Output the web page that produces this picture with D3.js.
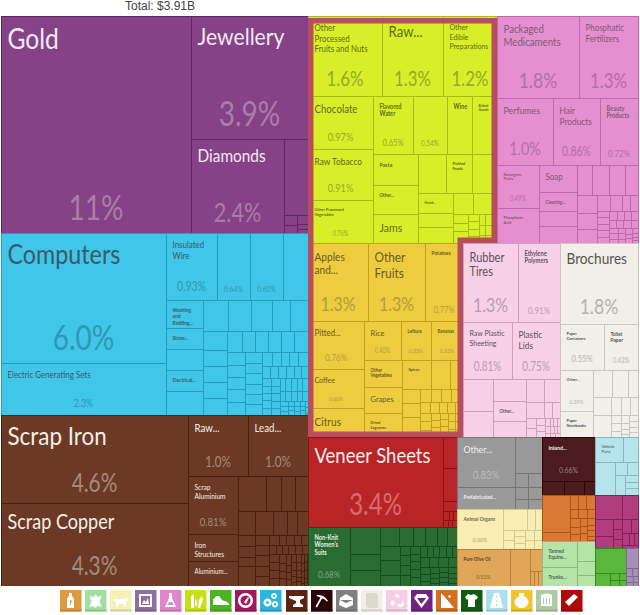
<!DOCTYPE html>
<html><head><meta charset="utf-8">
<script src="https://cdn.jsdelivr.net/npm/d3@7"></script>
<style>html,body{margin:0;padding:0;background:#fff}svg{display:block}text{font-family:Lato,"Open Sans",sans-serif}</style>
</head><body><svg id="c" width="640" height="615"></svg>
<script>
// nested layout helpers: h = side by side, v = stacked; leaf = value or [value, name, share]
const wrap = c => typeof c === "number" ? {value:c} : Array.isArray(c) ? {value:c[0], name:c[1]||"", pct:c[2]||""} : c;
const h = (...c) => ({dir:"h", children:c.map(wrap)});
const v = (...c) => ({dir:"v", children:c.map(wrap)});

const totalLabel = "Total: $3.91B";

const preciousMetals = h([412,"Gold","11%"], v([144,"Jewellery","3.9%"],
  h([87.4,"Diamonds","2.4%"], v(18.2, h(v(1.3,1.0), v(1.0,.6,.4))))));

const machines = h(v([214.5,"Computers","6.0%"],[85.8,"Electric Generating Sets","2.3%"]),
  v(h([34.2,"Insulated\nWire","0.93%"],[22.1,"","0.64%"],[22.1,"","0.60%"],16.8),
    h(v([10.4,"Washing\nand\nBottling..."],[7.8,"Stone..."],7.8,[7.8,"Electrical..."],8.9),
      v(h(7.75,7.13,6.5,5.6,5.6),
        h(v(4.4,3.7,3.7,3.7,3.9),
          v(h(3.15,2.7,2.9,2.7,2.7,2.9),
            h(v(2.3,2.2,2.2,2.3,2.3), v(1.78,1.78,1.78,1.78,1.78,1.78),
              v(h(1.4,1.26,1.12,1.26,1.4), h(.96,.96,.96,.96,.84,.84),
                h(v(.7,.7,.7,.7,.7), v(.6,.6,.6,.6,.56),
                  v(h(.7,.7,.7,.7,.7), h(.6,.6,.6,.6,.6),
                    h(v(.4,.4,.3),v(.3,.3,.3),v(.3,.3,.2),v(.2,.2,.2),v(.2,.2,.06))))))))))));

const metals = h(v([164.6,"Scrap Iron","4.6%"],[155.2,"Scrap Copper","4.3%"]),
  v(h([36.6,"Raw...","1.0%"],[36.6,"Lead...","1.0%"]),
    h(v([29,"Scrap\nAluminium","0.81%"],[13.5,"Iron\nStructures"],[12.5,"Aluminium..."]),
      v(h(9.8,5.25,4.9,4.55), h(4.08,4.32,3.36,2.4,2.64),
        h(v(1.9,1.9,1.5,3.4), v(1.43,1.43,1.43,1.43,1.42),
          v(h(1,.7,.8,.7,.7), h(.63,.54,.54,.63,.63,.54),
            h(v(.8,.8,.8,.8),v(.6,.5,.5,.5),v(.6,.4,.4,.4),v(.4,.4,.3,.3,.2),v(.35,.35,.3,.2,.2),v(.3,.3,.2,.2,.1),v(.2,.2,.2,.1,.1),v(.15,.1,.1,.1))))))));

const vegetable = v(h([59.2,"Other\nProcessed\nFruits and Nuts","1.6%"],[48.8,"Raw...","1.3%"],[43.2,"Other\nEdible\nPreparations","1.2%"]),
  h(v([34.45,"Chocolate","0.97%"],[33.15,"Raw Tobacco","0.91%"],[27.95,"Other Processed\nVegetables","0.76%"]),
    v(h([23.2,"Flavored\nWater","0.65%"],[19.7,"","0.54%"],[14.5,"Wine"],[14.5,"Baked\nGoods"]),
      h(v([13.95,"Pasta"],[13.05,"Other..."],[13.05,"Jams"]),
        v(h(10.92,[10.14,"Pickled\nFoods"],9.75),
          h(v([7,"Hard..."],4.9,5.6),
            v(h(4.2,5.04), h(v(1.35,1.2,1.8), v(.8,.8,.8,.8), v(.7,.6,.5), v(.9,.8,.7), v(.4,.3,.3)))))))));

const chemicals = v(h([67.2,"Packaged\nMedicaments","1.8%"],[48.4,"Phosphatic\nFertilizers","1.3%"]),
  h([37.5,"Perfumes","1.0%"],[31.5,"Hair\nProducts","0.86%"],[25.5,"Beauty\nProducts","0.72%"]),
  h(v([18.06,"Nonorganic\nPaints","0.49%"],[14.7,"Phosphoric\nAcid"]),
    v([10.26,"Soap"],[7.22,"Cleaning..."],5.7,6.46),
    v(h(4.5,5.1,4.8,3.9),
      h(v(3.6,3.2,2.8),
        v(h(2.08,1.92,1.28,1.28),
          h(v(.77,.77,.77,.77,.76),
            v(h(.72,.63,.63,.63), h(.58,.58,.58,.58),
              h(v(.5,.5,.4),v(.45,.4,.35),v(.4,.3,.3),v(.3,.25,.2,.2)))))))));

const foodstuffs = v(h([46.8,"Apples\nand...","1.3%"],[44.46,"Other\nFruits","1.3%"],[29.64,"Potatoes","0.77%"]),
  h(v([26.88,"Pitted...","0.76%"],[21.84,"Coffee","0.60%"],[16.24,"Citrus"]),
    v(h([14.43,"Rice","0.40%"],[11.7,"Lettuce","0.33%"],[12.48,"Bananas","0.32%"]),
      h(v([10.26,"Other\nVegetables"],[9.88,"Grapes"],[9.12,"Dried\nLegumes"]),
        v(h([8.41,"Spices"],5.51,3.77),
          h(v(2.52,2.52,3.6),
            v(h(1.43,1.3,1.3,1.56), h(1.1,.99,.88,.88,.88),
              h(v(.9,.9,.84),v(.6,.6,.5,.46),v(.5,.5,.5,.42),v(.6,.6,.6),v(.6,.6,.6)))))))));

const plastics = v(h([43.45,"Rubber\nTires","1.3%"],[33.18,"Ethylene\nPolymers","0.91%"]),
  h([27.93,"Raw Plastic\nSheeting","0.81%"],[27.36,"Plastic\nLids","0.75%"]),
  h(v(9.6,7.8), v(7.26,[6.6,"Other..."],5.28),
    v(h(4.14,3.68), h(2.88,1.28,1.28),
      h(v(1.1,1),v(.6,.6,.5), v(h(.4,.3,.3,.3),h(.3,.3,.2,.2),h(.2,.2,.2))))));

const paper = v([63.18,"Brochures","1.8%"],
  h([20.24,"Paper\nContainers","0.55%"],[15.64,"Toilet\nPaper","0.43%"]),
  h(v([13.53,"Other...","0.39%"],[8.58,"Paper\nNotebooks"]),
    v(h(5.13,4.32,2.7),
      h(v(3.24,3.96),
        v(h(1.8,1.62,1.44), h(v(.8,.8,.6),v(.6,.5,.4,.3),v(.5,.5,.5,.44)))))));

const stone = h([121.5,"Veneer Sheets","3.4%"], v(4.34,4.62, v(1.4,h(.5,.4,.3),h(.4,.3,.34))));

const textiles = h([24.78,"Non-Knit\nWomen's\nSuits","0.68%"], v(7.83,4.64,4.64),
  v(h(3.6,2.52,2.16,2.16,1.8,1.8),
    h(v(3,3,2.2),
      v(1,1,1,1.1), v(.8,.8,.8,.8,.9),
      v(h(.84,.72,.72,.72,.72,.6), h(.9,.9,.9,.9),
        h(v(.7,.7,.5),v(.5,.5,.4,.3),v(.4,.4,.4,.3),v(.5,.5,.4,.3))))));

const glass = h(v([29,"Other...","0.83%"],[12.76,"Prefabricated..."]),
  v(9.72, h(v(1.9,1.6,1.36),v(1.9,1.6,1.36))));

const animal = h([18.4,"Animal Organs","0.50%"],
  v(h(5.04,1.65,1.5), h(v(1.1,.99),v(.7,.7,.69),v(.9,.81),v(.8,.72))));

const oils = h([19.61,"Pure Olive Oil","0.51%"], 7.4, v(2.6,h(.6,.6,.64)));

const minerals = v([23.32,"Inland...","0.66%"], h(3.08,2.8,1.54));

const transport = v(h([7,"Vehicle\nParts"],3.75),
  h(6.6, v(h(1.6,1.39), h(2.0,v(.9,.8,.9)))));

const ores = h(v(10.36,2.52),
  v(h(1.12,1.12,1.26),h(.75,.75,.75),h(v(.8,.7,.7),v(.6,.6,.6),v(.5,.4,.4,.3,.1))));

const hides = h(v([9.1,"Tanned\nEquine..."],[6.65,"Trunks..."]), v(3.6,2.52,1.98));

const instruments = v(h(6.48,3.84),
  h(v(3,2.22), v(.9,.9,.81), v(h(1.3,1),h(.8,.6,.5),h(.44))));

const footwear = v(7.75, h(2,v(.6,.5),v(.5,.43)));

const misc = v(2.4,h(.5,.5),h(.4,.3),h(.26,.2));

// group of each block, with the treemap's arrangement of blocks
const mark = (g,n) => (n.group=g, n);
const tree = h(
  v(mark("precious",preciousMetals), mark("machines",machines), mark("metals",metals)),
  v(h(mark("vegetable",vegetable), mark("chemicals",chemicals)),
    h(mark("food",foodstuffs), mark("plastics",plastics), mark("paper",paper)),
    h(v(mark("stone",stone), mark("textiles",textiles)),
      v(mark("glass",glass), mark("animal",animal), mark("oils",oils)),
      v(mark("minerals",minerals), mark("ores",ores), mark("hides",hides)),
      v(mark("transport",transport), mark("instruments",instruments),
        h(mark("footwear",footwear), mark("misc",misc))))));

// styles: fill, line, name colour, share colour
const groupStyle = {
  precious:["#864286","#5f2766","#f3e9f3","#ab7dab"],
  machines:["#3fc6e8","#249cc0","#3e5a68","#3296b6"],
  metals:["#6c3a24","#4a1f10","#f5efe9","#a58a7c"],
  vegetable:["#d8ee29","#a3be10","#5f6b15","#95aa25"],
  chemicals:["#e58fd0","#bb6ba8","#7d5a72","#b56ea4"],
  food:["#edcc40","#c39f1e","#6a5a1e","#b49c3d"],
  plastics:["#f8d0e8","#c9a3b9","#5f5058","#b99eae"],
  paper:["#f2efe9","#c9c6c0","#55534f","#b5b2ad"],
  stone:["#b92527","#8a1113","#fbeaea","#d46d6e"],
  textiles:["#2a6b32","#144b1d","#e6efe6","#7da783"],
  glass:["#999999","#757575","#eeeeee","#bcbcbc"],
  animal:["#f8eeb4","#d6c88a","#6d6645","#a89f70"],
  oils:["#e0a65a","#b87e33","#5e4520","#7d5f2c"],
  minerals:["#4b1b1d","#2c0708","#f5eeee","#9b8384"],
  transport:["#b6e4ed","#86b8c2","#5d7277","#85a3a9"],
  ores:["#d87a33","#a9541a","#4a2a10","#4a2a10"],
  hides:["#b4e4a7","#88bb7b","#4d6447","#4d6447"],
  instruments:["#b03c7e","#861f59","#f5e5ee","#d088b0"],
  footwear:["#5bb63c","#2f8c13","#fff","#fff"],
  misc:["#a58fb2","#816a90","#fff","#fff"]
};
// font sizes of each leaf's name and share
const labelSizes = {
 "Gold":[28,35],"Jewellery":[24,35],"Diamonds":[17.5,27],"Computers":[26.5,35],"Electric Generating Sets":[9,11],
 "Insulated\nWire":[9,13],"|0.64%":[0,8.5],"|0.60%":[0,8.5],"Washing\nand\nBottling...":[5.5],"Stone...":[5.5],"Electrical...":[5.5],
 "Scrap Iron":[25.5,26],"Scrap Copper":[20.5,26],"Lead...":[11,14.5],"Raw...|1.0%":[11,14.5],"Scrap\nAluminium":[7.5,12],"Iron\nStructures":[7.5],"Aluminium...":[7],
 "Veneer Sheets":[21,30],"Non-Knit\nWomen's\nSuits":[6.5,10],
 "Other\nProcessed\nFruits and Nuts":[9,21],"Raw...|1.3%":[15,21],"Other\nEdible\nPreparations":[8,21],"Chocolate":[11,11.5],"Flavored\nWater":[6.5,9.5],"|0.54%":[0,8],
 "Wine":[6.5],"Baked\nGoods":[4],"Raw Tobacco":[9.5,11.5],"Pasta":[6],"Pickled\nFoods":[4.5],"Other...":[5],"Hard...":[4.5],"Other Processed\nVegetables":[4.5,7],"Jams":[12],
 "Packaged\nMedicaments":[11,22],"Phosphatic\nFertilizers":[9,21],"Perfumes":[10,18],"Hair\nProducts":[9.5,13],"Beauty\nProducts":[6.5,10],"Nonorganic\nPaints":[4,7.5],"Soap":[9],"Cleaning...":[5],"Phosphoric\nAcid":[4.5],
 "Apples\nand...":[11.5,20],"Other\nFruits":[13.5,20],"Potatoes":[5.5,9.5],"Pitted...":[9,10],"Rice":[8.5,7],"Lettuce":[5,6.5],"Bananas":[5,6.5],"Other\nVegetables":[5],"Grapes":[8.5],"Spices":[4.5],"Coffee":[8,6],"Citrus":[11.5],"Dried\nLegumes":[4.5],
 "Rubber\nTires":[12.5,20],"Ethylene\nPolymers":[6.5,10],"Raw Plastic\nSheeting":[8,12.5],"Plastic\nLids":[9.5,12.5],
 "Brochures":[15.5,22],"Paper\nContainers":[4.5,9.5],"Toilet\nPaper":[5.5,7.5],"Other...|0.39%":[4.5,6.5],"Paper\nNotebooks":[4.5],
 "Other...|0.83%":[10,12],"Prefabricated...":[5.5],"Inland...":[6,8.5],"Vehicle\nParts":[4.5],"Animal Organs":[5.5,6.5],"Pure Olive Oil":[5,6.5],"Tanned\nEquine...":[5.5],"Trunks...":[5.5]
};
const iconColors = ["#dd9a3e","#a5dfa0","#f8efb5","#8e6f9e","#e087cc","#c8e018","#4db325","#a11a5c","#2bb5e0","#5a2410","#2a0505","#808080","#f0eee6","#f8cde6","#6e2480","#d46f1f","#115a13","#ade0ec","#eec62c","#afc8a6","#ae0a0a"];
const iconGlyphs = [
 "M9 3h3v3l2 3v9H7V9l2-3zM10 10l2 1-2 5z",
 "M10.5 4l2 3 4-1-2 5 2 6-4-1-2 2-2-2-4 1 2-6-2-5 4 1z",
 "M3 8l2 1h9l2-1h2l1 2-3 2v5h-2v-3H8v3H6v-5L4 11z",
 "M4 4h13v13H4zM6 6v9h9V6zM7 14l2-4 2 2 2-4 1 6z",
 "M9 3h3v5l4 9H5l4-9zM9 12h3l1.500 3h-6z",
 "M6 18V7l2-3 1 3v11zM10 9l2 2v5h-2zM13 18l1-8 3-4 1 4-3 8z",
 "M3 9l2-1 1-2h3l3 4 5 2 2 2v1H3z",
 "M10.5 3a7.5 7.5 0 1 0 .01 0zM10.500 5.500a5 5 0 1 1-.01 0zM9 12l4-5 1 1-3 6z",
 "M7.500 8.500a4 4 0 1 0 .01 0zM7.500 11a1.500 1.500 0 1 1-.01 0zM14 3a3 3 0 1 0 .01 0zM14 5a1 1 0 1 1-.01 0zM15 11a3.200 3.200 0 1 0 .01 0zM15 13a1.200 1.200 0 1 1-.01 0z",
 "M3 6h15v2l-4 2v3l3 2v2H7v-2l3-2v-2L3 8z",
 "M6 5q7-1 11 6l-1 .5q-3-3-5-3l-5 9-1.500-1 5-9q-2-1-4-1.500z",
 "M4 8l6-4 7 4v7l-7 3-7-3zM4 10l6 3 7-3z",
 "M5 3h10l2 2v13H7l-2-2z",
 "M10.5 3l3 4-2 1-1-2-2 3zM4 12l3-2 2 4-3 2zM17 11l1 3-2 3h-4v-3h3z",
 "M6 4h9l3 4-7.500 10L3 8zM6 8h9l-4.500 6z",
 "M5 3v15h13L8 6zM12 6l2-1 1 2-2 1z",
 "M7 4l3 1 3-1 4 3-2 3-1-1v8H7V9l-1 1-2-3z",
 "M8 3h5l4 15H4zM10 6v2h1V6zM10 10v2h1v-2zM10 14v2h1v-2z",
 "M10.500 6a7 6 0 1 0 .01 0zM8 3h5v3H8z",
 "M5 5q5.500-3 11 0v11H5zM7 8v6h1V8zM10 8v6h1V8zM13 8v6h1V8z",
 "M4 12l9-8 4 3-9 9z"
];
const iconGlyphColor = i => i===12 ? "#dcd9d0" : "#fff";

const svg = d3.select("#c");
const root = d3.hierarchy(tree).sum(d => d.children ? 0 : d.value);
const tile = (n,x0,y0,x1,y1) => (n.data.dir==="h" ? d3.treemapDice : d3.treemapSlice)(n,x0,y0,x1,y1);
d3.treemap().tile(tile).size([637,570]).round(true)(root);
root.each(n => { n.x0+=1; n.x1+=1; n.y0+=16; n.y1+=16; });

const groupOf = n => { while(n && !n.data.group) n = n.parent; return n ? n.data.group : null; };
const leaves = root.leaves().map(l => Object.assign(l,{g:groupOf(l)}));

svg.append("g").selectAll("rect").data(leaves).join("rect")
  .attr("x",d=>d.x0+.5).attr("y",d=>d.y0+.5)
  .attr("width",d=>Math.max(0,d.x1-d.x0)).attr("height",d=>Math.max(0,d.y1-d.y0))
  .attr("fill",d=>groupStyle[d.g][0]).attr("stroke",d=>groupStyle[d.g][1]).attr("stroke-width",1);
svg.append("rect").attr("x",0).attr("y",586).attr("width",640).attr("height",29).attr("fill","#fff");

const sizeOf = d => labelSizes[d.data.name+"|"+d.data.pct] || labelSizes[d.data.name] || [0,0];
const sx = 0.88, sxPct = 0.8;
const labelled = leaves.filter(d=>d.data.name||d.data.pct);
const lbl = svg.append("g");
labelled.forEach(d=>{
  const [fs,ps] = sizeOf(d), st = groupStyle[d.g];
  (d.data.name||"").split("\n").forEach((line,i)=>{
    if(!line) return;
    lbl.append("text").text(line)
      .attr("transform",`translate(${d.x0+6.5},${d.y0+7+.92*fs+i*1.15*fs}) scale(${sx},1)`)
      .attr("font-size",fs).attr("fill",st[2]).attr("font-weight",fs<=6.5?700:400);
  });
  if(d.data.pct) lbl.append("text").text(d.data.pct)
      .attr("text-anchor","middle")
      .attr("transform",`translate(${(d.x0+d.x1)/2},${d.y1-(.2*ps+6)}) scale(${sxPct},1)`)
      .attr("font-size",ps).attr("fill",st[3]);
});

// frame around the two food groups
const gNode = name => root.descendants().find(n=>n.data.group===name);
const a = gNode("vegetable"), b = gNode("food"), s = 5.5, m = s/2;
const p = d3.path();
p.moveTo(a.x0+m,a.y0+2+m); p.lineTo(a.x1-m,a.y0+2+m); p.lineTo(a.x1-m,b.y0-m);
p.lineTo(b.x1-m,b.y0-m); p.lineTo(b.x1-m,b.y1-m); p.lineTo(b.x0+m,b.y1-m); p.closePath();
svg.append("path").attr("d",p.toString()).attr("fill","none").attr("stroke","#b84d5b").attr("stroke-width",s);

svg.append("text").text(totalLabel).attr("x",160).attr("y",10).attr("text-anchor","middle")
   .attr("font-size",12).attr("fill","#444").style("font-family","'Liberation Sans',sans-serif");

const ix = d3.scaleBand().domain(d3.range(iconColors.length)).range([60,583]).paddingInner(.13);
const ic = svg.append("g").selectAll("g").data(iconColors).join("g")
  .attr("transform",(d,i)=>`translate(${Math.round(ix(i))},590)`);
ic.append("rect").attr("width",21.5).attr("height",21.500).attr("fill",d=>d);
ic.append("rect").attr("y",19.5).attr("width",21.500).attr("height",2).attr("fill",d=>d3.color(d).darker(.4));
ic.append("path").attr("d",(d,i)=>iconGlyphs[i]).attr("fill",(d,i)=>iconGlyphColor(i)).attr("fill-rule","evenodd");
</script></body></html>
